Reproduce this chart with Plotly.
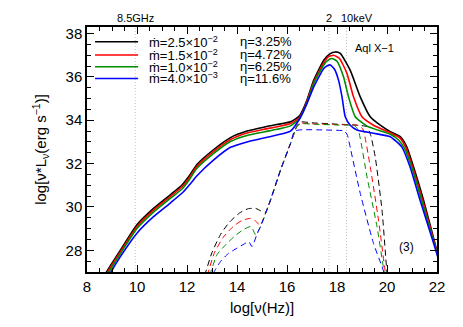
import plotly.graph_objects as go

# --- total spectra (solid) : log nu, log nuL_nu ---
nu_black = [8.6, 8.78, 9.33, 9.99, 10.66, 11.32, 11.79, 12.1, 12.39, 13.07, 13.74, 14.4, 15.07, 15.6, 16.14,
            16.5, 16.8, 17.07, 17.47, 17.7, 17.93, 18.13, 18.53, 18.93, 19.33, 19.73, 20.13, 20.53, 20.79,
            21.06, 21.46, 21.99, 22.1]
L_black = [26.6, 27.0, 28.0, 29.17, 29.93, 30.55, 31.0, 31.45, 31.95, 32.65, 33.2, 33.5, 33.68, 33.8, 33.93,
           34.2, 34.93, 35.85, 36.77, 37.05, 37.15, 37.08, 36.3, 35.08, 34.16, 33.77, 33.47, 33.24, 32.77,
           31.85, 30.32, 28.0, 27.55]

nu_red = [8.65, 8.83, 9.33, 9.99, 10.66, 11.32, 11.8, 12.1, 12.39, 13.07, 13.74, 14.4, 15.07, 15.6, 16.14,
          16.5, 16.8, 17.07, 17.47, 17.66, 17.86, 18.1, 18.4, 18.66, 19.0, 19.46, 20.13, 20.5, 20.75,
          21.02, 21.42, 21.99, 22.1]
L_red = [26.6, 27.0, 27.92, 29.08, 29.85, 30.47, 30.93, 31.36, 31.86, 32.56, 33.11, 33.41, 33.58, 33.7, 33.85,
         34.12, 34.86, 35.76, 36.65, 36.93, 37.0, 36.85, 36.15, 35.08, 34.16, 33.77, 33.42, 33.2, 32.75,
         31.85, 30.32, 27.95, 27.5]

nu_green = [8.7, 8.88, 9.33, 9.99, 10.66, 11.32, 11.81, 12.1, 12.39, 13.07, 13.74, 14.4, 15.07, 15.6, 16.14,
            16.5, 16.8, 17.07, 17.47, 17.62, 17.8, 18.0, 18.26, 18.46, 18.73, 19.2, 20.13, 20.45, 20.7,
            20.98, 21.38, 21.99, 22.1]
L_green = [26.6, 27.0, 27.83, 28.99, 29.76, 30.38, 30.84, 31.27, 31.77, 32.47, 33.02, 33.3, 33.46, 33.58, 33.74,
           34.06, 34.8, 35.7, 36.55, 36.75, 36.85, 36.72, 36.0, 35.08, 34.16, 33.73, 33.35, 33.1, 32.7,
           31.85, 30.32, 27.9, 27.45]

nu_blue = [8.78, 8.96, 9.33, 9.99, 10.66, 11.32, 11.86, 12.1, 12.39, 13.07, 13.74, 14.4, 15.07, 15.6, 16.14,
           16.47, 16.8, 17.07, 17.47, 17.6, 17.73, 17.9, 18.06, 18.2, 18.33, 18.53, 18.8, 19.46, 20.13,
           20.59, 20.92, 21.32, 21.99, 22.1]
L_blue = [26.6, 27.0, 27.7, 28.78, 29.55, 30.17, 30.7, 31.02, 31.43, 32.17, 32.75, 33.0, 33.18, 33.32, 33.5,
          34.0, 34.78, 35.54, 36.39, 36.5, 36.55, 36.35, 35.85, 35.08, 34.16, 33.77, 33.55, 33.4, 33.24,
          32.77, 31.85, 30.32, 27.86, 27.4]

# --- components (dashed) ---
nu_black_d = [12.6, 12.75, 13.0, 13.35, 13.7, 14.1, 14.45, 14.75, 14.95, 15.12, 15.34, 15.74, 16.14, 16.4,
              16.55, 17.0, 18.0, 18.8, 19.2, 19.35, 19.53, 19.8, 19.99, 20.05]
L_black_d = [26.4, 27.0, 27.9, 28.75, 29.3, 29.72, 29.92, 29.93, 29.82, 29.72, 30.32, 31.7, 32.93, 33.75,
             33.92, 33.88, 33.82, 33.77, 33.7, 33.3, 32.3, 29.86, 27.1, 26.5]

nu_red_d = [12.7, 12.85, 13.1, 13.45, 13.85, 14.2, 14.54, 14.75, 14.92, 15.34, 15.74, 16.14, 16.4,
            16.55, 17.0, 18.0, 18.9, 19.05, 19.33, 19.66, 19.93, 20.0]
L_red_d = [26.4, 27.0, 27.9, 28.6, 29.1, 29.38, 29.47, 29.35, 29.15, 30.32, 31.7, 32.93, 33.72,
           33.86, 33.84, 33.8, 33.75, 33.55, 31.85, 29.4, 27.0, 26.5]

nu_green_d = [12.8, 12.95, 13.2, 13.5, 13.9, 14.25, 14.54, 14.62, 14.74, 14.94, 15.34, 15.74, 16.14, 16.4,
              16.55, 17.0, 18.0, 18.7, 18.85, 19.2, 19.6, 19.86, 19.95]
L_green_d = [26.4, 27.0, 27.8, 28.2, 28.65, 28.95, 29.1, 29.0, 28.72, 29.09, 30.32, 31.7, 32.93, 33.72,
             33.84, 33.82, 33.78, 33.75, 33.55, 31.39, 29.09, 27.17, 26.5]

nu_blue_d = [12.9, 13.08, 13.35, 13.65, 14.0, 14.3, 14.47, 14.6, 14.8, 14.94, 15.34, 15.74, 16.14, 16.3,
             16.6, 17.5, 18.3, 18.42, 18.5, 18.93, 19.46, 19.8, 19.9]
L_blue_d = [26.5, 27.0, 27.5, 27.85, 28.1, 28.3, 28.4, 28.17, 28.75, 29.09, 30.32, 31.7, 32.93, 33.5,
            33.56, 33.55, 33.5, 33.3, 32.9, 30.63, 28.32, 27.25, 26.9]

colors = ["black", "#ff0000", "#008c00", "#0000ff"]
mdot_labels = ["2.5\u00d710<sup>\u22122</sup>", "1.5\u00d710<sup>\u22122</sup>",
               "1.0\u00d710<sup>\u22122</sup>", "4.0\u00d710<sup>\u22123</sup>"]
eta_labels = ["3.25%", "4.72%", "6.25%", "11.6%"]

# reference frequencies (8.5 GHz, 2 keV, 10 keV)
ref_nu = [9.93, 17.68, 18.38]
ref_labels = ["8.5GHz", "2", "10keV"]

solid = [(nu_black, L_black), (nu_red, L_red), (nu_green, L_green), (nu_blue, L_blue)]
dashed = [(nu_black_d, L_black_d), (nu_red_d, L_red_d), (nu_green_d, L_green_d), (nu_blue_d, L_blue_d)]

fig = go.Figure()

for x in ref_nu:
    fig.add_vline(x=x, line=dict(color="#c4c4c4", width=1, dash="1px,2px"), layer="below")

for (x, y), c in zip(dashed, colors):
    fig.add_trace(go.Scatter(x=x, y=y, mode="lines", showlegend=False,
                             line=dict(color=c, width=1, dash="6px,4px", shape="spline", smoothing=0.5)))

for (x, y), c in zip(solid, colors):
    fig.add_trace(go.Scatter(x=x, y=y, mode="lines", showlegend=False,
                             line=dict(color=c, width=1.6, shape="spline", smoothing=0.5)))

# legend block drawn in paper space (key line + two text columns per row)
row_y = [0.94, 0.886, 0.838, 0.79]
for ry, c, m, e in zip(row_y, colors, mdot_labels, eta_labels):
    fig.add_shape(type="line", xref="paper", yref="paper", x0=0.023, x1=0.146, y0=ry, y1=ry,
                  line=dict(color=c, width=1.6))
    fig.add_annotation(x=0.172, y=ry, xref="paper", yref="paper", xanchor="left", yanchor="middle",
                       text="\u1e41=" + m, showarrow=False, font=dict(size=13, color="black"))
    fig.add_annotation(x=0.432, y=ry, xref="paper", yref="paper", xanchor="left", yanchor="middle",
                       text="\u03b7=" + e, showarrow=False, font=dict(size=13, color="black"))

for x, t in zip(ref_nu, ref_labels):
    shift = 10 if t == "10keV" else 0
    fig.add_annotation(x=x, y=1, xref="x", yref="paper", yanchor="bottom", yshift=1, xshift=shift,
                       text=t, showarrow=False, font=dict(size=11, color="black"))

fig.add_annotation(x=0.76, y=0.945, xref="paper", yref="paper", xanchor="left", text="Aql X\u22121",
                   showarrow=False, font=dict(size=11, color="black"))
fig.add_annotation(x=0.94, y=0.065, xref="paper", yref="paper", text="(3)",
                   showarrow=False, font=dict(size=12, color="black"))
fig.add_annotation(x=0.5, y=-0.143, xref="paper", yref="paper", yanchor="middle",
                   text="log[\u03bd(Hz)]", showarrow=False, font=dict(size=15, color="black"))

axis_common = dict(showline=True, linecolor="black", linewidth=1.5, mirror="allticks",
                   ticks="inside", ticklen=7, tickwidth=1.2, tickcolor="black",
                   showgrid=False, zeroline=False, automargin=False,
                   tickfont=dict(size=15, color="black"),
                   minor=dict(ticks="inside", ticklen=4, tickwidth=1, tickcolor="black", dtick=0.5))

fig.update_xaxes(range=[8, 22], dtick=2, tick0=8, **axis_common)
fig.update_yaxes(range=[27, 38.3], dtick=2, tick0=28,
                 title=dict(text="log[\u03bd*L<sub>\u03bd</sub>(erg s<sup>\u22121</sup>)]",
                            font=dict(size=15, color="black")),
                 **axis_common)

# page body adds an 8px offset, so margins are shifted to keep the plot box in place
fig.update_layout(
    width=463, height=327,
    margin=dict(l=79, r=34, t=19, b=63),
    paper_bgcolor="white", plot_bgcolor="white",
    font=dict(family="Liberation Sans, Arial, sans-serif", color="black"),
    showlegend=False,
)

fig.write_html("out.html")
